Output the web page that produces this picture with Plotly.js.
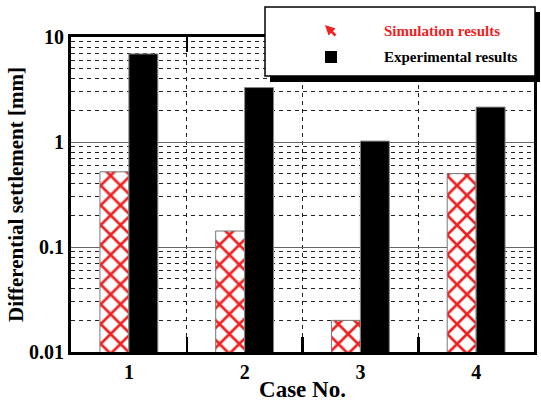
<!DOCTYPE html>
<html><head><meta charset="utf-8">
<script src="https://cdn.plot.ly/plotly-3.0.1.min.js"></script>
<style>html,body{margin:0;padding:0;background:#fff}#c{width:541px;height:402px}</style>
</head><body><div id="c"></div>
<script>
var cases = ['1', '2', '3', '4'];
var simulation = [0.52, 0.142, 0.02, 0.5];
var experimental = [6.9, 3.3, 1.02, 2.15];
var yTickVals = [0.01, 0.1, 1, 10];
var yTickText = ['0.01', '0.1', '1', '10'];
var legendNames = ['Simulation results', 'Experimental results'];

var W = 541, H = 402, L = 71, R = 7, T = 37, B = 50;
var pw = W - L - R, ph = H - T - B;
function px(x){ return (x - L) / pw; }
function py(y){ return (H - B - y) / ph; }

var serif = 'Liberation Serif';

var traces = [
  {type:'bar', x:cases, y:simulation, name:legendNames[0], showlegend:false,
   marker:{color:'white', line:{color:'#777', width:1},
     pattern:{shape:'x', fgcolor:'#ee2222', bgcolor:'white', fgopacity:1, size:14, solidity:0.35, fillmode:'replace'}}},
  {type:'bar', x:cases, y:experimental, name:legendNames[1], showlegend:false,
   marker:{color:'#000', line:{color:'#888', width:1}}}
];

var layout = {
  width:W, height:H, margin:{l:L, r:R, t:T, b:B},
  paper_bgcolor:'#fff', plot_bgcolor:'#fff',
  barmode:'group', bargap:0.5, bargroupgap:0,
  font:{family:serif, color:'#000'},
  xaxis:{type:'category', tickson:'boundaries', ticks:'inside', ticklen:15, tickwidth:2.5, tickcolor:'#000',
    showgrid:true, gridcolor:'#222', griddash:'4px,4px', gridwidth:1,
    showline:true, linecolor:'#000', linewidth:3, mirror:'ticks',
    tickfont:{size:20, family:serif, weight:'bold'},
    title:{text:'<b>Case No.</b>', font:{size:23, family:serif}, standoff:2}},
  yaxis:{type:'log', range:[-2, 1], tickvals:yTickVals, ticktext:yTickText, ticks:'',
    showgrid:true, gridcolor:'#666', gridwidth:1,
    minor:{showgrid:true, gridcolor:'#222', griddash:'4px,4px', gridwidth:1, dtick:'D1', ticks:''},
    showline:true, linecolor:'#000', linewidth:3, mirror:true,
    tickfont:{size:20, family:serif, weight:'bold'},
    title:{text:'<b>Differential settlement [mm]</b>', font:{size:21, family:serif}, standoff:0}},
  shapes:[
    {type:'rect', xref:'paper', yref:'paper', x0:px(270), x1:px(540), y0:py(82), y1:py(12),
     fillcolor:'#000', line:{width:0}, layer:'above'},
    {type:'rect', xref:'paper', yref:'paper', x0:px(265), x1:px(535), y0:py(76), y1:py(7),
     fillcolor:'#fff', line:{color:'#000', width:1.5}, layer:'above'},
    {type:'rect', xref:'paper', yref:'paper', x0:px(325), x1:px(337), y0:py(63), y1:py(51),
     fillcolor:'#000', line:{width:0}, layer:'above'}
  ],
  annotations:[
    {xref:'paper', yref:'paper', x:px(325), y:py(25), ax:12, ay:12, axref:'pixel', ayref:'pixel',
     showarrow:true, arrowhead:2, arrowsize:0.8, arrowwidth:2.5, arrowcolor:'#ee2222', text:''},
    {xref:'paper', yref:'paper', x:px(382), y:py(31), xanchor:'left', yanchor:'middle', showarrow:false,
     text:'<b>'+legendNames[0]+'</b>', font:{size:15, family:serif, color:'#ee2222'}},
    {xref:'paper', yref:'paper', x:px(382), y:py(57), xanchor:'left', yanchor:'middle', showarrow:false,
     text:'<b>'+legendNames[1]+'</b>', font:{size:15, family:serif, color:'#000'}}
  ]
};

Plotly.newPlot('c', traces, layout, {displayModeBar:false, staticPlot:true});
</script></body></html>
